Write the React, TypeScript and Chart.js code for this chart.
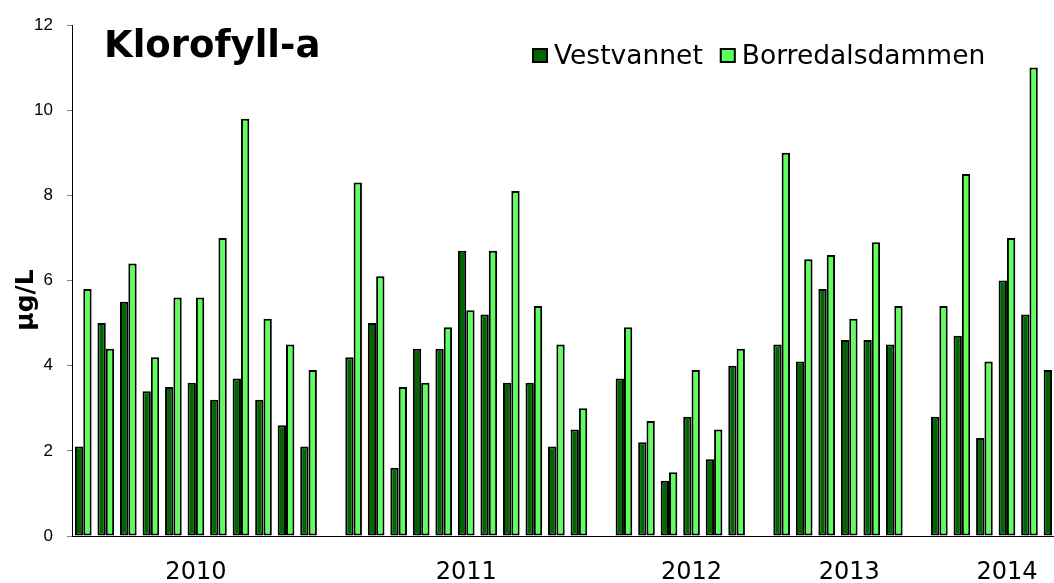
import React, { useEffect, useRef } from 'react';
import { Chart, registerables } from 'chart.js';

Chart.register(...registerables);

const TITLE = 'Klorofyll-a';
const Y_TITLE = 'µg/L';
const SERIES_NAMES = ['Vestvannet', 'Borredalsdammen'];
const SERIES_COLORS = ['#006600', '#5CFF5C'];

// 44 sampling slots (empty slots separate the years)
const SLOT_LABELS = [
  '', '', '', '', '', '2010', '', '', '', '', '', '',
  '', '', '', '', '', '2011', '', '', '', '', '', '',
  '', '', '', '2012', '', '', '',
  '', '', '', '2013', '', '', '',
  '', '', '', '2014', '', '',
];

const VESTVANNET = [
  2.1, 5.0, 5.5, 3.4, 3.5, 3.6, 3.2, 3.7, 3.2, 2.6, 2.1, null,
  4.2, 5.0, 1.6, 4.4, 4.4, 6.7, 5.2, 3.6, 3.6, 2.1, 2.5, null,
  3.7, 2.2, 1.3, 2.8, 1.8, 4.0, null,
  4.5, 4.1, 5.8, 4.6, 4.6, 4.5, null,
  2.8, 4.7, 2.3, 6.0, 5.2, 3.9,
];

const BORREDALSDAMMEN = [
  5.8, 4.4, 6.4, 4.2, 5.6, 5.6, 7.0, 9.8, 5.1, 4.5, 3.9, null,
  8.3, 6.1, 3.5, 3.6, 4.9, 5.3, 6.7, 8.1, 5.4, 4.5, 3.0, null,
  4.9, 2.7, 1.5, 3.9, 2.5, 4.4, null,
  9.0, 6.5, 6.6, 5.1, 6.9, 5.4, null,
  5.4, 8.5, 4.1, 7.0, 11.0, null,
];

const Y_MIN = 0;
const Y_MAX = 12;
const Y_STEP = 2;

const overlayPlugin = {
  id: 'overlayText',
  afterDraw(chart: any) {
    const ctx = chart.ctx as CanvasRenderingContext2D;
    ctx.save();
    // chart title
    ctx.fillStyle = '#000';
    ctx.font = 'bold 37px "DejaVu Sans"';
    ctx.textAlign = 'left';
    ctx.textBaseline = 'alphabetic';
    ctx.fillText(TITLE, 104, 57);

    // y-axis title
    ctx.save();
    ctx.translate(26, 300);
    ctx.rotate(-Math.PI / 2);
    ctx.font = 'bold 25px "DejaVu Sans"';
    ctx.textAlign = 'center';
    ctx.textBaseline = 'middle';
    ctx.fillText(Y_TITLE, 0, 0);
    ctx.restore();

    // legend
    ctx.font = '26.5px "DejaVu Sans"';
    ctx.textAlign = 'left';
    ctx.textBaseline = 'alphabetic';
    let x = 532;
    chart.data.datasets.forEach((ds: any) => {
      ctx.fillStyle = ds.backgroundColor;
      ctx.fillRect(x, 48, 16, 15);
      ctx.strokeStyle = '#000';
      ctx.lineWidth = 2;
      ctx.strokeRect(x + 1, 49, 14, 13);
      ctx.fillStyle = '#000';
      ctx.fillText(ds.label, x + 22, 64);
      x += 22 + ctx.measureText(ds.label).width + 17;
    });
    ctx.restore();
  },
};

export default function App() {
  const canvasRef = useRef<HTMLCanvasElement | null>(null);

  useEffect(() => {
    if (!canvasRef.current) return;
    const chart = new Chart(canvasRef.current, {
      type: 'bar',
      data: {
        labels: SLOT_LABELS,
        datasets: [
          {
            label: SERIES_NAMES[0],
            data: VESTVANNET,
            backgroundColor: SERIES_COLORS[0],
            borderColor: '#000',
            borderWidth: 2,
            borderSkipped: false,
            categoryPercentage: 0.74,
            barPercentage: 1.0,
          },
          {
            label: SERIES_NAMES[1],
            data: BORREDALSDAMMEN,
            backgroundColor: SERIES_COLORS[1],
            borderColor: '#000',
            borderWidth: 2,
            borderSkipped: false,
            categoryPercentage: 0.74,
            barPercentage: 1.0,
          },
        ],
      },
      options: {
        animation: false,
        responsive: false,
        devicePixelRatio: 1,
        layout: { padding: { top: 25, left: 0, right: 0, bottom: 0 } },
        plugins: {
          legend: { display: false },
          title: { display: false },
          tooltip: { enabled: false },
        },
        scales: {
          x: {
            type: 'category',
            grid: { display: false, drawTicks: false },
            border: { display: true, color: '#000', width: 1 },
            ticks: {
              autoSkip: false,
              maxRotation: 0,
              minRotation: 0,
              color: '#000',
              padding: 22,
              font: { family: '"DejaVu Sans"', size: 24 },
            },
            afterFit: (s: any) => {
              s.height = 47;
            },
          },
          y: {
            min: Y_MIN,
            max: Y_MAX,
            ticks: {
              stepSize: Y_STEP,
              color: '#000',
              padding: 14,
              font: { family: '"Liberation Sans"', size: 17 },
            },
            grid: {
              drawOnChartArea: false,
              drawTicks: true,
              tickLength: 5,
              color: '#808080',
            },
            border: { display: true, color: '#000', width: 1 },
            afterFit: (s: any) => {
              s.width = 72;
            },
          },
        },
      },
      plugins: [overlayPlugin],
    } as any);
    return () => chart.destroy();
  }, []);

  return (
    <div
      style={{
        position: 'fixed',
        left: 0,
        top: 0,
        width: 1054,
        height: 583,
        overflow: 'hidden',
        background: '#fff',
      }}
    >
      <canvas ref={canvasRef} width={1074} height={583} style={{ display: 'block' }} />
    </div>
  );
}
